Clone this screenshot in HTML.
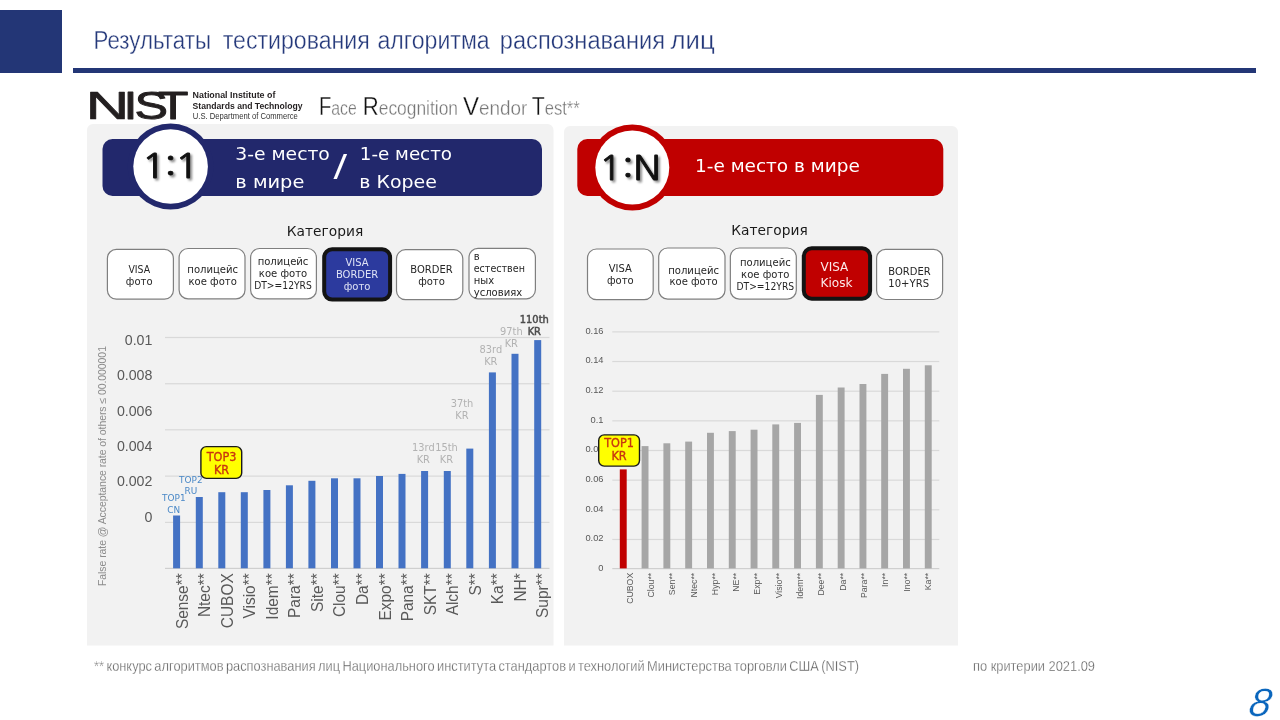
<!DOCTYPE html>
<html lang="ru"><head><meta charset="utf-8"><title>Результаты тестирования алгоритма распознавания лиц</title>
<style>
html,body{margin:0;padding:0;background:#fff;}
body{width:1280px;height:720px;overflow:hidden;position:relative;}
svg{position:absolute;left:0;top:0;display:block;font-family:"Liberation Sans", sans-serif;}
</style></head><body>
<svg width="1280" height="720" viewBox="0 0 1280 720">
<defs><filter id="blur" x="-20%" y="-20%" width="140%" height="140%"><feGaussianBlur stdDeviation="0.9"/></filter></defs>
<rect x="0" y="10" width="62" height="63" fill="#233676"/>
<rect x="73" y="68" width="1183" height="5" fill="#233676"/>
<path d="M87 645.5V130a6 6 0 0 1 6-6H547.5a6 6 0 0 1 6 6V645.5Z" fill="#f2f2f2"/>
<path d="M564 645.5V132a6 6 0 0 1 6-6H952a6 6 0 0 1 6 6V645.5Z" fill="#f2f2f2"/>
<text y="49" font-size="25.5" fill="#24387a" stroke="#fff" stroke-width="0.35"><tspan x="93.5" textLength="117.5" lengthAdjust="spacingAndGlyphs">Результаты</tspan> <tspan x="222.75" textLength="147.0" lengthAdjust="spacingAndGlyphs">тестирования</tspan> <tspan x="377.5" textLength="112.2" lengthAdjust="spacingAndGlyphs">алгоритма</tspan> <tspan x="499.8" textLength="165.2" lengthAdjust="spacingAndGlyphs">распознавания</tspan> <tspan x="670.5" textLength="44.2" lengthAdjust="spacingAndGlyphs">лиц</tspan></text>
<g id="nist">
<g font-size="39.3" fill="#231f20" stroke="#231f20" stroke-linejoin="round"><text transform="translate(85.7,118.9) scale(1.53,1)" stroke-width="0.7">N</text><text transform="translate(0,118.9) scale(1.28,1)" stroke-width="0.9" x="96.4 105.0 123.2" y="0">IST</text></g>
<text x="192.6" y="97.9" font-size="8.8" font-weight="bold" fill="#231f20" textLength="82.8" lengthAdjust="spacingAndGlyphs">National Institute of</text>
<text x="192.6" y="108.5" font-size="8.8" font-weight="bold" fill="#231f20" textLength="110" lengthAdjust="spacingAndGlyphs">Standards and Technology</text>
<text x="192.8" y="119.2" font-size="8.8" fill="#333" textLength="105" lengthAdjust="spacingAndGlyphs">U.S. Department of Commerce</text>
</g>
<text y="115" font-size="20" fill="#777" stroke="#fff" stroke-width="0.3"><tspan x="318.9" textLength="37.8" lengthAdjust="spacingAndGlyphs"><tspan font-size="25.5" fill="#111">F</tspan>ace</tspan> <tspan x="362.7" textLength="95.3" lengthAdjust="spacingAndGlyphs"><tspan font-size="25.5" fill="#111">R</tspan>ecognition</tspan> <tspan x="463" textLength="64.4" lengthAdjust="spacingAndGlyphs"><tspan font-size="25.5" fill="#111">V</tspan>endor</tspan> <tspan x="531.7" textLength="48.1" lengthAdjust="spacingAndGlyphs"><tspan font-size="25.5" fill="#111">T</tspan>est**</tspan></text>
<rect x="102.5" y="139" width="439.5" height="57" rx="10" fill="#22286c"/>
<circle cx="170.6" cy="166.5" r="43" fill="#22286c"/>
<circle cx="170.6" cy="166.5" r="37.3" fill="#fff"/>
<text transform="translate(171.4,179.5) scale(1.17,1)" font-size="34.4" font-family='"NanumGothic", "Liberation Sans", sans-serif' fill="#909090" text-anchor="middle" letter-spacing="-1.5" stroke="#909090" stroke-width="0.9" filter="url(#blur)">1:1</text>
<text transform="translate(169.4,177.5) scale(1.17,1)" font-size="34.4" font-family='"NanumGothic", "Liberation Sans", sans-serif' fill="#111" text-anchor="middle" letter-spacing="-1.5" stroke="#111" stroke-width="0.9" stroke-linejoin="round">1:1</text>
<text transform="translate(235.3,160) scale(1.025,1)" font-family='"DejaVu Sans", "Liberation Sans", sans-serif' font-size="18.3" fill="#ffffff">3-е место</text>
<text transform="translate(235.3,187.5) scale(1.06,1)" font-family='"DejaVu Sans", "Liberation Sans", sans-serif' font-size="18.3" fill="#ffffff">в мире</text>
<text transform="translate(333.5,175.6) scale(1.3,1)" font-family='"DejaVu Sans", "Liberation Sans", sans-serif' font-size="31" fill="#ffffff">/</text>
<text transform="translate(359.8,160) scale(1.0,1)" font-family='"DejaVu Sans", "Liberation Sans", sans-serif' font-size="18.3" fill="#ffffff">1-е место</text>
<text transform="translate(359.3,187.5) scale(1.035,1)" font-family='"DejaVu Sans", "Liberation Sans", sans-serif' font-size="18.3" fill="#ffffff">в Корее</text>
<rect x="577.3" y="139" width="366" height="57" rx="10" fill="#c00000"/>
<circle cx="632.3" cy="167.5" r="43" fill="#c00000"/>
<circle cx="632.3" cy="167.5" r="37" fill="#fff"/>
<text transform="translate(631.9,182.4) scale(1.11,1)" font-size="34.0" font-family='"NanumGothic", "Liberation Sans", sans-serif' fill="#909090" text-anchor="middle" letter-spacing="0" stroke="#909090" stroke-width="0.9" filter="url(#blur)">1:N</text>
<text transform="translate(629.9,180.4) scale(1.11,1)" font-size="34.0" font-family='"NanumGothic", "Liberation Sans", sans-serif' fill="#111" text-anchor="middle" letter-spacing="0" stroke="#111" stroke-width="0.9" stroke-linejoin="round">1:N</text>
<text transform="translate(695,172.2) scale(1.01,1)" font-family='"DejaVu Sans", "Liberation Sans", sans-serif' font-size="18.3" fill="#ffffff">1-е место в мире</text>
<text transform="translate(325,235.7) scale(1.044,1)" font-family='"DejaVu Sans", "Liberation Sans", sans-serif' font-size="13.2" fill="#1a1a1a" text-anchor="middle">Категория</text>
<text transform="translate(769.5,234.7) scale(1.044,1)" font-family='"DejaVu Sans", "Liberation Sans", sans-serif' font-size="13.2" fill="#1a1a1a" text-anchor="middle">Категория</text>
<rect x="107.39999999999999" y="249.4" width="66.0" height="49.8" rx="9" fill="#fff" stroke="#7f7f7f" stroke-width="1.2"/>
<text transform="translate(139.2,272.7) scale(0.9,1)" font-family='"DejaVu Sans", "Liberation Sans", sans-serif' font-size="10.4" fill="#262626" text-anchor="middle">VISA</text>
<text transform="translate(139.2,284.6) scale(0.968,1)" font-family='"DejaVu Sans", "Liberation Sans", sans-serif' font-size="10.4" fill="#262626" text-anchor="middle">фото</text>
<rect x="179.1" y="248.5" width="65.89999999999999" height="50.39999999999999" rx="9" fill="#fff" stroke="#7f7f7f" stroke-width="1.2"/>
<text transform="translate(212.7,273.4) scale(0.968,1)" font-family='"DejaVu Sans", "Liberation Sans", sans-serif' font-size="10.4" fill="#262626" text-anchor="middle">полицейс</text>
<text transform="translate(212.7,285.3) scale(0.968,1)" font-family='"DejaVu Sans", "Liberation Sans", sans-serif' font-size="10.4" fill="#262626" text-anchor="middle">кое фото</text>
<rect x="250.6" y="248.5" width="65.8" height="50.39999999999999" rx="9" fill="#fff" stroke="#7f7f7f" stroke-width="1.2"/>
<text transform="translate(283,265.0) scale(0.968,1)" font-family='"DejaVu Sans", "Liberation Sans", sans-serif' font-size="10.4" fill="#262626" text-anchor="middle">полицейс</text>
<text transform="translate(283,276.9) scale(0.968,1)" font-family='"DejaVu Sans", "Liberation Sans", sans-serif' font-size="10.4" fill="#262626" text-anchor="middle">кое фото</text>
<text transform="translate(283,288.8) scale(0.885,1)" font-family='"DejaVu Sans", "Liberation Sans", sans-serif' font-size="10.4" fill="#262626" text-anchor="middle">DT&gt;=12YRS</text>
<rect x="324.2" y="249.2" width="65.90000000000003" height="50.400000000000034" rx="8" fill="#2c3a9e" stroke="#141414" stroke-width="4"/>
<text transform="translate(357.1,266.2) scale(0.96,1)" font-family='"DejaVu Sans", "Liberation Sans", sans-serif' font-size="10.4" fill="#dfe3f5" text-anchor="middle">VISA</text>
<text transform="translate(357.1,278.1) scale(0.96,1)" font-family='"DejaVu Sans", "Liberation Sans", sans-serif' font-size="10.4" fill="#dfe3f5" text-anchor="middle">BORDER</text>
<text transform="translate(357.1,290.0) scale(0.968,1)" font-family='"DejaVu Sans", "Liberation Sans", sans-serif' font-size="10.4" fill="#dfe3f5" text-anchor="middle">фото</text>
<rect x="396.5" y="249.7" width="66.3" height="50.000000000000014" rx="9" fill="#fff" stroke="#7f7f7f" stroke-width="1.2"/>
<text transform="translate(431.5,273.2) scale(0.96,1)" font-family='"DejaVu Sans", "Liberation Sans", sans-serif' font-size="10.4" fill="#262626" text-anchor="middle">BORDER</text>
<text transform="translate(431.5,285.1) scale(0.968,1)" font-family='"DejaVu Sans", "Liberation Sans", sans-serif' font-size="10.4" fill="#262626" text-anchor="middle">фото</text>
<rect x="469.0" y="248.4" width="66.40000000000002" height="50.39999999999996" rx="9" fill="#fff" stroke="#7f7f7f" stroke-width="1.2"/>
<text transform="translate(473.7,260.3) scale(0.968,1)" font-family='"DejaVu Sans", "Liberation Sans", sans-serif' font-size="10.4" fill="#262626">в</text>
<text transform="translate(473.7,272.2) scale(0.92,1)" font-family='"DejaVu Sans", "Liberation Sans", sans-serif' font-size="10.4" fill="#262626">естествен</text>
<text transform="translate(473.7,284.1) scale(0.968,1)" font-family='"DejaVu Sans", "Liberation Sans", sans-serif' font-size="10.4" fill="#262626">ных</text>
<text transform="translate(473.7,296.0) scale(0.968,1)" font-family='"DejaVu Sans", "Liberation Sans", sans-serif' font-size="10.4" fill="#262626">условиях</text>
<rect x="587.5" y="249.0" width="65.69999999999997" height="50.7" rx="9" fill="#fff" stroke="#7f7f7f" stroke-width="1.2"/>
<text transform="translate(620.3,272.1) scale(0.96,1)" font-family='"DejaVu Sans", "Liberation Sans", sans-serif' font-size="10.4" fill="#262626" text-anchor="middle">VISA</text>
<text transform="translate(620.3,284.0) scale(0.968,1)" font-family='"DejaVu Sans", "Liberation Sans", sans-serif' font-size="10.4" fill="#262626" text-anchor="middle">фото</text>
<rect x="658.7" y="248.0" width="66.3" height="51.14999999999999" rx="9" fill="#fff" stroke="#7f7f7f" stroke-width="1.2"/>
<text transform="translate(693.6,273.5) scale(0.968,1)" font-family='"DejaVu Sans", "Liberation Sans", sans-serif' font-size="10.4" fill="#262626" text-anchor="middle">полицейс</text>
<text transform="translate(693.6,285.4) scale(0.968,1)" font-family='"DejaVu Sans", "Liberation Sans", sans-serif' font-size="10.4" fill="#262626" text-anchor="middle">кое фото</text>
<rect x="730.35" y="248.0" width="65.94999999999997" height="51.14999999999999" rx="9" fill="#fff" stroke="#7f7f7f" stroke-width="1.2"/>
<text transform="translate(765.3,266.2) scale(0.968,1)" font-family='"DejaVu Sans", "Liberation Sans", sans-serif' font-size="10.4" fill="#262626" text-anchor="middle">полицейс</text>
<text transform="translate(765.3,278.1) scale(0.968,1)" font-family='"DejaVu Sans", "Liberation Sans", sans-serif' font-size="10.4" fill="#262626" text-anchor="middle">кое фото</text>
<text transform="translate(765.3,290.0) scale(0.885,1)" font-family='"DejaVu Sans", "Liberation Sans", sans-serif' font-size="10.4" fill="#262626" text-anchor="middle">DT&gt;=12YRS</text>
<rect x="803.8" y="248.2" width="66.30000000000007" height="50.60000000000002" rx="8" fill="#c00000" stroke="#141414" stroke-width="4"/>
<text transform="translate(820.5,271.4) scale(0.96,1)" font-family='"DejaVu Sans", "Liberation Sans", sans-serif' font-size="12.5" fill="#fbe9e9">VISA</text>
<text transform="translate(820.5,286.9) scale(0.968,1)" font-family='"DejaVu Sans", "Liberation Sans", sans-serif' font-size="12.5" fill="#fbe9e9">Kiosk</text>
<rect x="876.6" y="249.35" width="66.00000000000004" height="50.15000000000002" rx="9" fill="#fff" stroke="#7f7f7f" stroke-width="1.2"/>
<text transform="translate(888.3,274.8) scale(0.96,1)" font-family='"DejaVu Sans", "Liberation Sans", sans-serif' font-size="10.4" fill="#262626">BORDER</text>
<text transform="translate(888.3,286.7) scale(0.968,1)" font-family='"DejaVu Sans", "Liberation Sans", sans-serif' font-size="10.4" fill="#262626">10+YRS</text>
<rect x="165" y="336.9" width="384.5" height="1.2" fill="#d9d9d9"/>
<rect x="165" y="383.15" width="384.5" height="1.2" fill="#d9d9d9"/>
<rect x="165" y="429.2" width="384.5" height="1.2" fill="#d9d9d9"/>
<rect x="165" y="475.5" width="384.5" height="1.2" fill="#d9d9d9"/>
<rect x="165" y="521.8" width="384.5" height="1.2" fill="#d9d9d9"/>
<rect x="165" y="567.8" width="384.5" height="1.2" fill="#cfcfcf"/>
<text x="152.4" y="345.1" font-size="14.2" fill="#595959" text-anchor="end">0.01</text>
<text x="152.4" y="380.40000000000003" font-size="14.2" fill="#595959" text-anchor="end">0.008</text>
<text x="152.4" y="415.70000000000005" font-size="14.2" fill="#595959" text-anchor="end">0.006</text>
<text x="152.4" y="451.1" font-size="14.2" fill="#595959" text-anchor="end">0.004</text>
<text x="152.4" y="486.40000000000003" font-size="14.2" fill="#595959" text-anchor="end">0.002</text>
<text x="152.4" y="521.8000000000001" font-size="14.2" fill="#595959" text-anchor="end">0</text>
<text transform="translate(105.5,586) rotate(-90)" font-size="10.5" fill="#8c8c8c" textLength="240" lengthAdjust="spacing">False rate @ Acceptance rate of others ≤ 00.000001</text>
<rect x="173.1" y="515.5" width="7" height="52.8" fill="#4472c4"/>
<rect x="195.8" y="497" width="7" height="71.3" fill="#4472c4"/>
<rect x="218.3" y="492.2" width="7" height="76.1" fill="#4472c4"/>
<rect x="240.8" y="492.2" width="7" height="76.1" fill="#4472c4"/>
<rect x="263.4" y="490" width="7" height="78.3" fill="#4472c4"/>
<rect x="285.9" y="485.3" width="7" height="83.0" fill="#4472c4"/>
<rect x="308.4" y="480.8" width="7" height="87.5" fill="#4472c4"/>
<rect x="331" y="478.3" width="7" height="90.0" fill="#4472c4"/>
<rect x="353.5" y="478.3" width="7" height="90.0" fill="#4472c4"/>
<rect x="376" y="476" width="7" height="92.3" fill="#4472c4"/>
<rect x="398.5" y="473.9" width="7" height="94.4" fill="#4472c4"/>
<rect x="421.1" y="471" width="7" height="97.3" fill="#4472c4"/>
<rect x="443.8" y="471" width="7" height="97.3" fill="#4472c4"/>
<rect x="466.3" y="448.6" width="7" height="119.7" fill="#4472c4"/>
<rect x="488.9" y="372.4" width="7" height="195.9" fill="#4472c4"/>
<rect x="511.5" y="353.8" width="7" height="214.5" fill="#4472c4"/>
<rect x="534.2" y="340.1" width="7" height="228.2" fill="#4472c4"/>
<text transform="translate(187.8,573.3) rotate(-90) scale(0.965,1.04)" font-size="16" fill="#595959" text-anchor="end">Sense**</text>
<text transform="translate(210.3,573.3) rotate(-90) scale(0.965,1.04)" font-size="16" fill="#595959" text-anchor="end">Ntec**</text>
<text transform="translate(232.8,573.3) rotate(-90) scale(0.965,1.04)" font-size="16" fill="#595959" text-anchor="end">CUBOX</text>
<text transform="translate(255.4,573.3) rotate(-90) scale(0.965,1.04)" font-size="16" fill="#595959" text-anchor="end">Visio**</text>
<text transform="translate(277.9,573.3) rotate(-90) scale(0.965,1.04)" font-size="16" fill="#595959" text-anchor="end">Idem**</text>
<text transform="translate(300.4,573.3) rotate(-90) scale(0.965,1.04)" font-size="16" fill="#595959" text-anchor="end">Para**</text>
<text transform="translate(322.9,573.3) rotate(-90) scale(0.965,1.04)" font-size="16" fill="#595959" text-anchor="end">Site**</text>
<text transform="translate(345.4,573.3) rotate(-90) scale(0.965,1.04)" font-size="16" fill="#595959" text-anchor="end">Clou**</text>
<text transform="translate(368.0,573.3) rotate(-90) scale(0.965,1.04)" font-size="16" fill="#595959" text-anchor="end">Da**</text>
<text transform="translate(390.5,573.3) rotate(-90) scale(0.965,1.04)" font-size="16" fill="#595959" text-anchor="end">Expo**</text>
<text transform="translate(413.0,573.3) rotate(-90) scale(0.965,1.04)" font-size="16" fill="#595959" text-anchor="end">Pana**</text>
<text transform="translate(435.5,573.3) rotate(-90) scale(0.965,1.04)" font-size="16" fill="#595959" text-anchor="end">SKT**</text>
<text transform="translate(458.0,573.3) rotate(-90) scale(0.965,1.04)" font-size="16" fill="#595959" text-anchor="end">Alch**</text>
<text transform="translate(480.6,573.3) rotate(-90) scale(0.965,1.04)" font-size="16" fill="#595959" text-anchor="end">S**</text>
<text transform="translate(503.1,573.3) rotate(-90) scale(0.965,1.04)" font-size="16" fill="#595959" text-anchor="end">Ka**</text>
<text transform="translate(525.6,573.3) rotate(-90) scale(0.965,1.04)" font-size="16" fill="#595959" text-anchor="end">NH*</text>
<text transform="translate(548.1,573.3) rotate(-90) scale(0.965,1.04)" font-size="16" fill="#595959" text-anchor="end">Supr**</text>
<text transform="translate(534.3,323.1) scale(0.94,1)" font-family='"DejaVu Sans", "Liberation Sans", sans-serif' font-size="10.5" fill="#4d4d4d" text-anchor="middle" stroke="#4d4d4d" stroke-width="0.5">110th</text>
<text transform="translate(534.3,335.1) scale(0.94,1)" font-family='"DejaVu Sans", "Liberation Sans", sans-serif' font-size="10.5" fill="#4d4d4d" text-anchor="middle" stroke="#4d4d4d" stroke-width="0.5">KR</text>
<text transform="translate(511.3,335.1) scale(0.94,1)" font-family='"DejaVu Sans", "Liberation Sans", sans-serif' font-size="10.5" fill="#b2b2b2" text-anchor="middle">97th</text>
<text transform="translate(511.3,346.8) scale(0.94,1)" font-family='"DejaVu Sans", "Liberation Sans", sans-serif' font-size="10.5" fill="#b2b2b2" text-anchor="middle">KR</text>
<text transform="translate(490.8,353.3) scale(0.94,1)" font-family='"DejaVu Sans", "Liberation Sans", sans-serif' font-size="10.5" fill="#b2b2b2" text-anchor="middle">83rd</text>
<text transform="translate(490.8,365.1) scale(0.94,1)" font-family='"DejaVu Sans", "Liberation Sans", sans-serif' font-size="10.5" fill="#b2b2b2" text-anchor="middle">KR</text>
<text transform="translate(462,406.8) scale(0.94,1)" font-family='"DejaVu Sans", "Liberation Sans", sans-serif' font-size="10.5" fill="#b2b2b2" text-anchor="middle">37th</text>
<text transform="translate(462,418.8) scale(0.94,1)" font-family='"DejaVu Sans", "Liberation Sans", sans-serif' font-size="10.5" fill="#b2b2b2" text-anchor="middle">KR</text>
<text transform="translate(423.3,451.3) scale(0.94,1)" font-family='"DejaVu Sans", "Liberation Sans", sans-serif' font-size="10.5" fill="#b2b2b2" text-anchor="middle">13rd</text>
<text transform="translate(423.3,463.1) scale(0.94,1)" font-family='"DejaVu Sans", "Liberation Sans", sans-serif' font-size="10.5" fill="#b2b2b2" text-anchor="middle">KR</text>
<text transform="translate(446.5,451.3) scale(0.94,1)" font-family='"DejaVu Sans", "Liberation Sans", sans-serif' font-size="10.5" fill="#b2b2b2" text-anchor="middle">15th</text>
<text transform="translate(446.5,463.1) scale(0.94,1)" font-family='"DejaVu Sans", "Liberation Sans", sans-serif' font-size="10.5" fill="#b2b2b2" text-anchor="middle">KR</text>
<text transform="translate(190.8,483.0) scale(0.94,1)" font-family='"DejaVu Sans", "Liberation Sans", sans-serif' font-size="9.5" fill="#4a88c7" text-anchor="middle">TOP2</text>
<text transform="translate(190.8,494.3) scale(0.94,1)" font-family='"DejaVu Sans", "Liberation Sans", sans-serif' font-size="9.5" fill="#4a88c7" text-anchor="middle">RU</text>
<text transform="translate(173.8,501.2) scale(0.94,1)" font-family='"DejaVu Sans", "Liberation Sans", sans-serif' font-size="9.5" fill="#4a88c7" text-anchor="middle">TOP1</text>
<text transform="translate(173.8,512.5) scale(0.94,1)" font-family='"DejaVu Sans", "Liberation Sans", sans-serif' font-size="9.5" fill="#4a88c7" text-anchor="middle">CN</text>
<rect x="200.9" y="446.6" width="40.8" height="31.8" rx="5.5" fill="#ffff00" stroke="#1a1a1a" stroke-width="1.4"/>
<text transform="translate(221.5,460.7) scale(0.94,1)" font-family='"DejaVu Sans", "Liberation Sans", sans-serif' font-size="12" fill="#c8350f" text-anchor="middle" stroke="#c8350f" stroke-width="0.35">TOP3</text>
<text transform="translate(221.5,473.7) scale(0.94,1)" font-family='"DejaVu Sans", "Liberation Sans", sans-serif' font-size="12" fill="#c8350f" text-anchor="middle" stroke="#c8350f" stroke-width="0.35">KR</text>
<rect x="612.3" y="331.3" width="327" height="1.2" fill="#d9d9d9"/>
<rect x="612.3" y="360.95" width="327" height="1.2" fill="#d9d9d9"/>
<rect x="612.3" y="390.6" width="327" height="1.2" fill="#d9d9d9"/>
<rect x="612.3" y="420.25" width="327" height="1.2" fill="#d9d9d9"/>
<rect x="612.3" y="449.9" width="327" height="1.2" fill="#d9d9d9"/>
<rect x="612.3" y="479.55" width="327" height="1.2" fill="#d9d9d9"/>
<rect x="612.3" y="509.2" width="327" height="1.2" fill="#d9d9d9"/>
<rect x="612.3" y="538.85" width="327" height="1.2" fill="#d9d9d9"/>
<rect x="612.3" y="568" width="327" height="1.2" fill="#cfcfcf"/>
<text x="603.5" y="333.7" font-size="9.3" fill="#595959" text-anchor="end">0.16</text>
<text x="603.5" y="363.3" font-size="9.3" fill="#595959" text-anchor="end">0.14</text>
<text x="603.5" y="393.0" font-size="9.3" fill="#595959" text-anchor="end">0.12</text>
<text x="603.5" y="422.6" font-size="9.3" fill="#595959" text-anchor="end">0.1</text>
<text x="603.5" y="452.3" font-size="9.3" fill="#595959" text-anchor="end">0.08</text>
<text x="603.5" y="481.9" font-size="9.3" fill="#595959" text-anchor="end">0.06</text>
<text x="603.5" y="511.6" font-size="9.3" fill="#595959" text-anchor="end">0.04</text>
<text x="603.5" y="541.2" font-size="9.3" fill="#595959" text-anchor="end">0.02</text>
<text x="603.5" y="570.9" font-size="9.3" fill="#595959" text-anchor="end">0</text>
<rect x="619.8" y="469.4" width="6.9" height="99.0" fill="#c00000"/>
<rect x="641.6" y="446.1" width="6.9" height="122.3" fill="#a6a6a6"/>
<rect x="663.4" y="443.3" width="6.9" height="125.1" fill="#a6a6a6"/>
<rect x="685.2" y="441.6" width="6.9" height="126.8" fill="#a6a6a6"/>
<rect x="707" y="432.8" width="6.9" height="135.6" fill="#a6a6a6"/>
<rect x="728.8" y="431.1" width="6.9" height="137.3" fill="#a6a6a6"/>
<rect x="750.6" y="429.7" width="6.9" height="138.7" fill="#a6a6a6"/>
<rect x="772.3" y="424.4" width="6.9" height="144.0" fill="#a6a6a6"/>
<rect x="794.1" y="422.9" width="6.9" height="145.5" fill="#a6a6a6"/>
<rect x="815.9" y="394.9" width="6.9" height="173.5" fill="#a6a6a6"/>
<rect x="837.7" y="387.5" width="6.9" height="180.9" fill="#a6a6a6"/>
<rect x="859.5" y="384" width="6.9" height="184.4" fill="#a6a6a6"/>
<rect x="881.2" y="373.9" width="6.9" height="194.5" fill="#a6a6a6"/>
<rect x="903" y="368.8" width="6.9" height="199.6" fill="#a6a6a6"/>
<rect x="924.8" y="365.3" width="6.9" height="203.1" fill="#a6a6a6"/>
<text transform="translate(632.7,572.8) rotate(-90) scale(0.94,1.03)" font-size="9.3" fill="#595959" text-anchor="end">CUBOX</text>
<text transform="translate(654.0,572.8) rotate(-90) scale(0.94,1.03)" font-size="9.3" fill="#595959" text-anchor="end">Clou**</text>
<text transform="translate(675.3,572.8) rotate(-90) scale(0.94,1.03)" font-size="9.3" fill="#595959" text-anchor="end">Sen**</text>
<text transform="translate(696.6,572.8) rotate(-90) scale(0.94,1.03)" font-size="9.3" fill="#595959" text-anchor="end">Ntec**</text>
<text transform="translate(717.9,572.8) rotate(-90) scale(0.94,1.03)" font-size="9.3" fill="#595959" text-anchor="end">Hyp**</text>
<text transform="translate(739.2,572.8) rotate(-90) scale(0.94,1.03)" font-size="9.3" fill="#595959" text-anchor="end">NE**</text>
<text transform="translate(760.4,572.8) rotate(-90) scale(0.94,1.03)" font-size="9.3" fill="#595959" text-anchor="end">Exp**</text>
<text transform="translate(781.7,572.8) rotate(-90) scale(0.94,1.03)" font-size="9.3" fill="#595959" text-anchor="end">Visio**</text>
<text transform="translate(803.0,572.8) rotate(-90) scale(0.94,1.03)" font-size="9.3" fill="#595959" text-anchor="end">Idem**</text>
<text transform="translate(824.3,572.8) rotate(-90) scale(0.94,1.03)" font-size="9.3" fill="#595959" text-anchor="end">Dee**</text>
<text transform="translate(845.6,572.8) rotate(-90) scale(0.94,1.03)" font-size="9.3" fill="#595959" text-anchor="end">Da**</text>
<text transform="translate(866.9,572.8) rotate(-90) scale(0.94,1.03)" font-size="9.3" fill="#595959" text-anchor="end">Para**</text>
<text transform="translate(888.2,572.8) rotate(-90) scale(0.94,1.03)" font-size="9.3" fill="#595959" text-anchor="end">In**</text>
<text transform="translate(909.5,572.8) rotate(-90) scale(0.94,1.03)" font-size="9.3" fill="#595959" text-anchor="end">Ino**</text>
<text transform="translate(930.8,572.8) rotate(-90) scale(0.94,1.03)" font-size="9.3" fill="#595959" text-anchor="end">Ka**</text>
<rect x="598.7" y="434.9" width="40.8" height="31.2" rx="5.5" fill="#ffff00" stroke="#1a1a1a" stroke-width="1.4"/>
<text transform="translate(619,447.4) scale(0.94,1)" font-family='"DejaVu Sans", "Liberation Sans", sans-serif' font-size="12" fill="#c8350f" text-anchor="middle" stroke="#c8350f" stroke-width="0.35">TOP1</text>
<text transform="translate(619,459.7) scale(0.94,1)" font-family='"DejaVu Sans", "Liberation Sans", sans-serif' font-size="12" fill="#c8350f" text-anchor="middle" stroke="#c8350f" stroke-width="0.35">KR</text>
<text x="94" y="670.5" font-size="14.5" fill="#5e5e5e" stroke="#fff" stroke-width="0.3" word-spacing="-1.3" textLength="765" lengthAdjust="spacingAndGlyphs">** конкурс алгоритмов распознавания лиц Национального института стандартов и технологий Министерства торговли США (NIST)</text>
<text x="973" y="670.5" font-size="14.5" fill="#5e5e5e" stroke="#fff" stroke-width="0.3" textLength="122" lengthAdjust="spacingAndGlyphs">по критерии 2021.09</text>
<text transform="translate(1247.6,715.9) skewX(-9)" font-size="39.5" font-style="italic" fill="#0a66bd" stroke="#fff" stroke-width="0.25">8</text>
</svg>
</body></html>
